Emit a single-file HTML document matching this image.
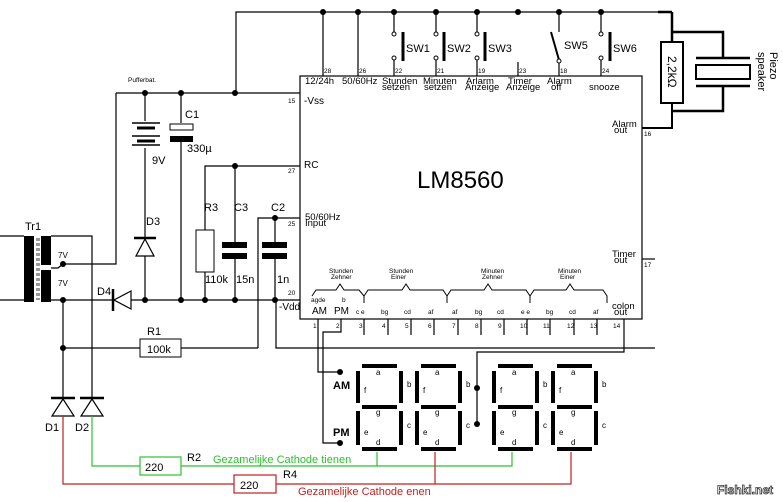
<!DOCTYPE html>
<html><head><style>
html,body{margin:0;padding:0;background:#fff;}
svg{display:block;font-family:"Liberation Sans",Arial,sans-serif;}
</style></head><body>
<svg width="783" height="502" viewBox="0 0 783 502" xmlns="http://www.w3.org/2000/svg">
<g stroke="#000" stroke-width="1.2" fill="none">
<!-- top bus -->
<polyline points="236,93 236,12 662,12" />
<line x1="658" y1="12" x2="672" y2="12" stroke-width="2.5"/>
<line x1="672" y1="12" x2="672" y2="42" stroke-width="2.5"/>
<polyline points="672,32 723,32 723,58" stroke-width="2.5"/>
<polyline points="723,86 723,111 672,111" stroke-width="2.5"/>
<polyline points="672,103 672,128 642,128" stroke-width="2"/>
<!-- pins top -->
<line x1="323" y1="12" x2="323" y2="76"/>
<line x1="358" y1="12" x2="358" y2="76"/>
<line x1="394" y1="12" x2="394" y2="32"/><line x1="394" y1="60" x2="394" y2="76"/>
<line x1="436" y1="12" x2="436" y2="32"/><line x1="436" y1="60" x2="436" y2="76"/>
<line x1="477" y1="12" x2="477" y2="32"/><line x1="477" y1="60" x2="477" y2="76"/>
<line x1="518" y1="62" x2="518" y2="76"/>
<line x1="559" y1="12" x2="559" y2="32"/><line x1="559" y1="62" x2="559" y2="76"/>
<line x1="601" y1="12" x2="601" y2="32"/><line x1="601" y1="60" x2="601" y2="76"/>
<line x1="551" y1="32" x2="559" y2="60" stroke-width="2"/>
<!-- chip -->
<rect x="300" y="76" width="342" height="243"/>
<!-- left circuit -->
<line x1="116" y1="93" x2="300" y2="93"/>
<polyline points="116,93 116,264 63,264"/>
<line x1="145" y1="93" x2="145" y2="121"/><line x1="145" y1="148" x2="145" y2="238"/>
<line x1="145" y1="256" x2="145" y2="300"/>
<line x1="181" y1="93" x2="181" y2="123"/><line x1="181" y1="142" x2="181" y2="300"/>
<polyline points="205,230 205,166 300,166"/>
<line x1="205" y1="272" x2="205" y2="300"/>
<line x1="235" y1="166" x2="235" y2="242"/><line x1="235" y1="257" x2="235" y2="300"/>
<polyline points="258,348 258,218 300,218"/>
<line x1="275" y1="218" x2="275" y2="242"/><line x1="275" y1="257" x2="275" y2="300"/>
<line x1="131" y1="300" x2="300" y2="300"/>
<line x1="51" y1="300" x2="113" y2="300"/>
<line x1="0" y1="236" x2="24" y2="236"/><line x1="0" y1="300" x2="24" y2="300"/>
<polyline points="51,236 92,236 92,398"/>
<polyline points="51,268 58,268 63,264"/>
<line x1="63" y1="300" x2="63" y2="398"/>
<line x1="63" y1="348" x2="140" y2="348"/><line x1="181" y1="348" x2="258" y2="348"/>
<polyline points="276,300 276,348 655,348"/>
<!-- chip bottom wires -->
<polyline points="318,319 318,372 340,372"/>
<polyline points="341,319 341,332 323,332 323,443 340,443"/>
<polyline points="624,319 624,352 477,352 477,424"/>
<line x1="642" y1="259" x2="655" y2="259"/>
<!-- bottom stubs -->
<line x1="364" y1="319" x2="364" y2="335"/><line x1="388" y1="319" x2="388" y2="335"/>
<line x1="411" y1="319" x2="411" y2="335"/><line x1="434" y1="319" x2="434" y2="335"/>
<line x1="458" y1="319" x2="458" y2="335"/><line x1="481" y1="319" x2="481" y2="335"/>
<line x1="504" y1="319" x2="504" y2="335"/><line x1="527" y1="319" x2="527" y2="335"/>
<line x1="550" y1="319" x2="550" y2="335"/><line x1="574" y1="319" x2="574" y2="335"/>
<line x1="597" y1="319" x2="597" y2="335"/>
<!-- braces -->
<g stroke-width="1">
<polyline points="312,296 316,290 336,290 340,284 344,290 359,290 364,296"/>
<polyline points="364,296 368,290 402,290 406,284 410,290 443,290 447,296"/>
<polyline points="447,296 451,290 484,290 488,284 492,290 526,290 530,296"/>
<polyline points="530,296 534,290 566,290 570,284 574,290 603,290 607,296 607,303"/>
<line x1="364" y1="296" x2="364" y2="303"/><line x1="447" y1="296" x2="447" y2="303"/><line x1="530" y1="296" x2="530" y2="303"/>
</g>
</g>
<!-- switches -->
<g stroke="#000" stroke-width="3"><line x1="403" y1="32" x2="403" y2="61"/><line x1="444" y1="32" x2="444" y2="61"/><line x1="485" y1="32" x2="485" y2="61"/><line x1="610" y1="32" x2="610" y2="61"/></g>
<g fill="#fff" stroke="#000" stroke-width="1"><circle cx="394" cy="34" r="2"/><circle cx="394" cy="58" r="2"/><circle cx="436" cy="34" r="2"/><circle cx="436" cy="58" r="2"/><circle cx="477" cy="34" r="2"/><circle cx="477" cy="58" r="2"/><circle cx="559" cy="61" r="2"/><circle cx="601" cy="34" r="2"/><circle cx="601" cy="58" r="2"/></g>
<!-- resistor 2.2k and piezo -->
<rect x="661" y="42" width="22" height="61" fill="#fff" stroke="#000" stroke-width="2"/>
<g stroke="#000" stroke-width="2.5"><line x1="696" y1="58" x2="750" y2="58"/><line x1="696" y1="86" x2="750" y2="86"/></g>
<rect x="696" y="65" width="54" height="14" fill="#fff" stroke="#000" stroke-width="2"/>
<text transform="translate(668,56) rotate(90)" font-size="12">2,2kΩ</text>
<text transform="translate(770,52) rotate(90)" font-size="11">Piezo</text>
<text transform="translate(758,52) rotate(90)" font-size="11">speaker</text>
<!-- battery -->
<g stroke="#000"><line x1="132" y1="123" x2="160" y2="123" stroke-width="1.5"/><line x1="137" y1="128" x2="155" y2="128" stroke-width="3"/><line x1="132" y1="136" x2="160" y2="136" stroke-width="1.5"/><line x1="137" y1="141" x2="155" y2="141" stroke-width="3"/><line x1="132" y1="145" x2="160" y2="145" stroke-width="1.5"/></g>
<!-- C1 -->
<rect x="170" y="124" width="23" height="6" fill="#fff" stroke="#000"/>
<rect x="170" y="136" width="23" height="6" fill="#000"/>
<!-- R3, C3, C2 -->
<rect x="196" y="230" width="18" height="42" fill="#fff" stroke="#000"/>
<rect x="222" y="242" width="25" height="6" fill="#000"/><rect x="222" y="253" width="25" height="6" fill="#000"/>
<rect x="262" y="242" width="25" height="6" fill="#000"/><rect x="262" y="253" width="25" height="6" fill="#000"/>
<!-- diodes -->
<g stroke="#000" stroke-width="1.2" fill="#fff">
<polygon points="145,239 136,256 154,256"/><line x1="134" y1="238" x2="156" y2="238" stroke-width="2.5"/>
<polygon points="114,300 131,291 131,309"/><line x1="113" y1="289" x2="113" y2="311" stroke-width="2.5"/>
<polygon points="63,399 52,416 74,416"/><line x1="51" y1="398" x2="75" y2="398" stroke-width="2.5"/>
<polygon points="92,399 81,416 103,416"/><line x1="80" y1="398" x2="104" y2="398" stroke-width="2.5"/>
</g>
<!-- transformer -->
<rect x="24" y="236" width="10" height="66" fill="#000"/>
<rect x="41" y="236" width="10" height="29" fill="#000"/>
<rect x="41" y="270" width="10" height="32" fill="#000"/>
<g stroke="#000" stroke-width="0.8" stroke-dasharray="3,2"><line x1="37" y1="238" x2="37" y2="300"/><line x1="39" y1="238" x2="39" y2="300"/></g>
<!-- R1 -->
<rect x="140" y="339" width="41" height="18" fill="#fff" stroke="#000"/>
<!-- green / red -->
<polyline points="92,416 92,466 140,466" fill="none" stroke="#2ec02e" stroke-width="1.2"/>
<polyline points="181,466 377,466 377,452" fill="none" stroke="#2ec02e" stroke-width="1.2"/>
<polyline points="377,466 512,466 512,452" fill="none" stroke="#2ec02e" stroke-width="1.2"/>
<rect x="140" y="457" width="41" height="18" fill="#fff" stroke="#2ec02e" stroke-width="1.2"/>
<polyline points="63,416 63,484 234,484" fill="none" stroke="#c02020" stroke-width="1.2"/>
<polyline points="276,484 571,484 571,452" fill="none" stroke="#c02020" stroke-width="1.2"/>
<line x1="435" y1="484" x2="435" y2="452" stroke="#c02020" stroke-width="1.2"/>
<rect x="234" y="475" width="42" height="18" fill="#fff" stroke="#c02020" stroke-width="1.2"/>
<!-- 7 segment digits -->
<g fill="#000">
<g id="d1"><rect x="362" y="364" width="35" height="4"/><rect x="362" y="405" width="35" height="4"/><rect x="362" y="447" width="35" height="4"/><rect x="356" y="371" width="4" height="32"/><rect x="399" y="371" width="4" height="32"/><rect x="356" y="411" width="4" height="34"/><rect x="399" y="411" width="4" height="34"/></g>
<use href="#d1" x="59"/><use href="#d1" x="136"/><use href="#d1" x="195"/>
</g>
<g font-size="8" fill="#000">
<text x="376" y="375">a</text><text x="407" y="387">b</text><text x="364" y="393">f</text><text x="376" y="415">g</text><text x="407" y="428">c</text><text x="364" y="435">e</text><text x="376" y="445">d</text>
<text x="435" y="375">a</text><text x="466" y="387">b</text><text x="423" y="393">f</text><text x="435" y="415">g</text><text x="466" y="428">c</text><text x="423" y="435">e</text><text x="435" y="445">d</text>
<text x="512" y="375">a</text><text x="543" y="387">b</text><text x="500" y="393">f</text><text x="512" y="415">g</text><text x="543" y="428">c</text><text x="500" y="435">e</text><text x="512" y="445">d</text>
<text x="571" y="375">a</text><text x="602" y="387">b</text><text x="559" y="393">f</text><text x="571" y="415">g</text><text x="602" y="428">c</text><text x="559" y="435">e</text><text x="571" y="445">d</text>
</g>
<!-- dots -->
<g fill="#000">
<circle cx="323" cy="12" r="3"/><circle cx="358" cy="12" r="3"/><circle cx="394" cy="12" r="3"/><circle cx="436" cy="12" r="3"/><circle cx="477" cy="12" r="3"/><circle cx="518" cy="12" r="3"/><circle cx="559" cy="12" r="3"/><circle cx="601" cy="12" r="3"/>
<circle cx="145" cy="93" r="3"/><circle cx="181" cy="93" r="3"/><circle cx="235" cy="93" r="3"/><circle cx="235" cy="166" r="3"/><circle cx="275" cy="218" r="3"/>
<circle cx="63" cy="264" r="3"/><circle cx="63" cy="300" r="3"/><circle cx="145" cy="300" r="3"/><circle cx="181" cy="300" r="3"/><circle cx="205" cy="300" r="3"/><circle cx="235" cy="300" r="3"/><circle cx="275" cy="300" r="3"/><circle cx="63" cy="348" r="3"/>
<circle cx="340" cy="372" r="3"/><circle cx="340" cy="443" r="3"/><circle cx="477" cy="388" r="3"/><circle cx="477" cy="424" r="3"/>
</g>
<!-- texts -->
<g fill="#000" font-size="11">
<text x="406" y="52">SW1</text><text x="447" y="52">SW2</text><text x="488" y="52">SW3</text><text x="564" y="49">SW5</text><text x="613" y="52">SW6</text>
<text x="185" y="118">C1</text><text x="187" y="152">330µ</text><text x="152" y="164">9V</text>
<text x="204" y="211">R3</text><text x="234" y="211">C3</text><text x="271" y="211">C2</text>
<text x="205" y="283">110k</text><text x="236" y="283">15n</text><text x="277" y="283">1n</text>
<text x="146" y="225">D3</text><text x="97" y="295">D4</text><text x="25" y="230">Tr1</text>
<text x="45" y="431">D1</text><text x="75" y="431">D2</text>
<text x="147" y="335">R1</text><text x="147" y="353">100k</text>
<text x="187" y="461">R2</text><text x="283" y="478">R4</text>
<text x="145" y="471">220</text><text x="240" y="489">220</text>
<text x="213" y="463" fill="#2ec02e">Gezamelijke Cathode tienen</text>
<text x="298" y="495" fill="#c02020">Gezamelijke Cathode enen</text>
<text x="417" y="188" font-size="24">LM8560</text>
<text x="304" y="104" font-size="10">-Vss</text><text x="304" y="168" font-size="10">RC</text>
<text x="279" y="310" font-size="10">-Vdd</text>
<text x="312" y="314" font-size="10">AM</text><text x="334" y="314" font-size="10">PM</text>
<text x="333" y="389" font-weight="bold">AM</text><text x="333" y="436" font-weight="bold">PM</text>
</g>
<g fill="#000" font-size="9.5">
<text x="305" y="84">12/24h</text><text x="342" y="84">50/60Hz</text>
<text x="382" y="84">Stunden</text><text x="382" y="90">setzen</text>
<text x="423" y="84">Minuten</text><text x="424" y="90">setzen</text>
<text x="466" y="84">Arlarm</text><text x="465" y="90">Anzeige</text>
<text x="508" y="84">Timer</text><text x="506" y="90">Anzeige</text>
<text x="547" y="84">Alarm</text><text x="551" y="90">off</text>
<text x="589" y="90">snooze</text>
<text x="612" y="127">Alarm</text><text x="614" y="133">out</text>
<text x="612" y="257">Timer</text><text x="614" y="263">out</text>
<text x="612" y="309">colon</text><text x="614" y="315">out</text>
<text x="305" y="220">50/60Hz</text><text x="305" y="226">Input</text>
</g>
<g fill="#000" font-size="6.5">
<text x="324" y="73">28</text><text x="359" y="73">26</text><text x="395" y="73">22</text><text x="437" y="73">21</text><text x="478" y="73">19</text><text x="519" y="73">23</text><text x="560" y="73">18</text><text x="602" y="73">24</text>
<text x="288" y="103">15</text><text x="288" y="173">27</text><text x="288" y="226">25</text><text x="288" y="295">20</text>
<text x="644" y="136">16</text><text x="644" y="267">17</text>
<text x="128" y="82">Pufferbat.</text>
<text x="313" y="328">1</text><text x="336" y="328">2</text><text x="359" y="328">3</text><text x="382" y="328">4</text><text x="405" y="328">5</text><text x="428" y="328">6</text><text x="452" y="328">7</text><text x="475" y="328">8</text><text x="498" y="328">9</text><text x="520" y="328">10</text><text x="543" y="328">11</text><text x="567" y="328">12</text><text x="590" y="328">13</text><text x="613" y="328">14</text>
<text x="311" y="302">agde</text><text x="342" y="302">b</text>
<text x="356" y="314">c e</text><text x="381" y="314">bg</text><text x="404" y="314">cd</text><text x="428" y="314">af</text><text x="452" y="314">af</text><text x="475" y="314">bg</text><text x="497" y="314">cd</text><text x="521" y="314">e e</text><text x="546" y="314">bg</text><text x="569" y="314">cd</text><text x="593" y="314">af</text>
<text x="329" y="273">Stunden</text><text x="331" y="279">Zehner</text>
<text x="389" y="273">Stunden</text><text x="391" y="279">Einer</text>
<text x="481" y="273">Minuten</text><text x="482" y="279">Zehner</text>
<text x="558" y="273">Minuten</text><text x="560" y="279">Einer</text>
<text x="58" y="258" font-size="8">7V</text><text x="58" y="286" font-size="8">7V</text>
</g>
<text x="717" y="494" font-size="12" font-weight="bold" fill="#fff" stroke="#333" stroke-width="0.8">Fishki.net</text>
</svg>
</body></html>
